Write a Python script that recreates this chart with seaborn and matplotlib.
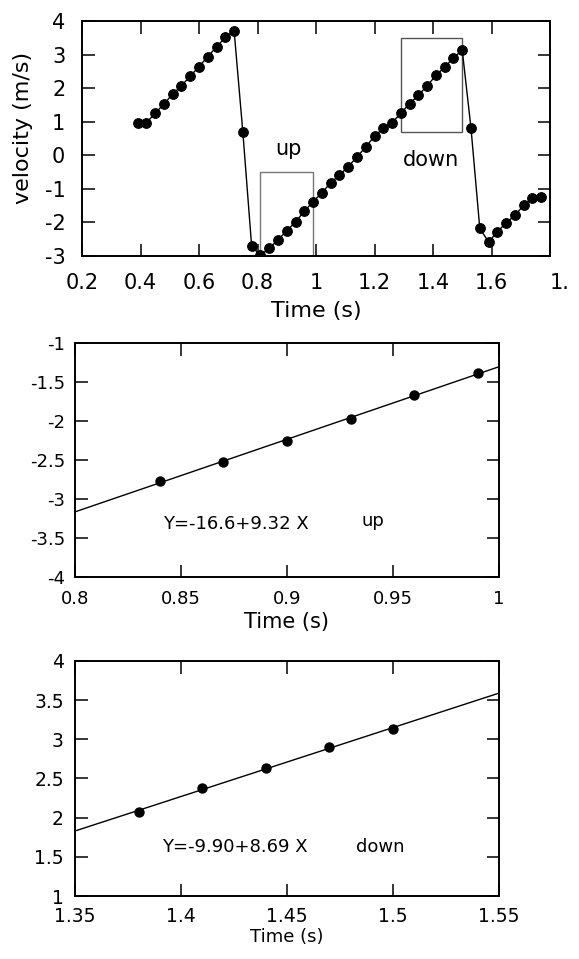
import numpy as np
import pandas as pd
import seaborn as sns
import matplotlib.pyplot as plt
from matplotlib.patches import Rectangle

# ====================== DATA ======================
# full run, velocity vs time
t_all = [0.39, 0.42, 0.45, 0.48, 0.51, 0.54, 0.57, 0.60, 0.63, 0.66, 0.69, 0.72,
         0.75, 0.78, 0.81, 0.84, 0.87, 0.90, 0.93, 0.96, 0.99, 1.02, 1.05, 1.08,
         1.11, 1.14, 1.17, 1.20, 1.23, 1.26, 1.29, 1.32, 1.35, 1.38, 1.41, 1.44,
         1.47, 1.50, 1.53, 1.56, 1.59, 1.62, 1.65, 1.68, 1.71, 1.74, 1.77]
v_all = [0.97, 0.97, 1.25, 1.53, 1.82, 2.07, 2.36, 2.64, 2.94, 3.23, 3.51, 3.71,
         0.68, -2.71, -2.98, -2.77, -2.52, -2.25, -1.98, -1.67, -1.38, -1.12, -0.82, -0.59,
         -0.34, -0.05, 0.25, 0.57, 0.80, 0.97, 1.25, 1.54, 1.79, 2.07, 2.38, 2.63,
         2.90, 3.13, 0.80, -2.18, -2.58, -2.28, -2.01, -1.79, -1.49, -1.26, -1.24]

# "up" section
t_up = [0.84, 0.87, 0.90, 0.93, 0.96, 0.99]
v_up = [-2.77, -2.52, -2.25, -1.98, -1.67, -1.38]

# "down" section
t_down = [1.38, 1.41, 1.44, 1.47, 1.50]
v_down = [2.07, 2.38, 2.63, 2.90, 3.13]

top_xticks = [0.2, 0.4, 0.6, 0.8, 1.0, 1.2, 1.4, 1.6, 1.8]
top_xlabels = ["0.2", "0.4", "0.6", "0.8", "1", "1.2", "1.4", "1.6", "1."]
top_yticks = [-3, -2, -1, 0, 1, 2, 3, 4]
up_xticks = [0.8, 0.85, 0.9, 0.95, 1.0]
up_xlabels = ["0.8", "0.85", "0.9", "0.95", "1"]
up_yticks = [-4, -3.5, -3, -2.5, -2, -1.5, -1]
up_ylabels = ["-4", "-3.5", "-3", "-2.5", "-2", "-1.5", "-1"]
down_xticks = [1.35, 1.4, 1.45, 1.5, 1.55]
down_xlabels = ["1.35", "1.4", "1.45", "1.5", "1.55"]
down_yticks = [1, 1.5, 2, 2.5, 3, 3.5, 4]
down_ylabels = ["1", "1.5", "2", "2.5", "3", "3.5", "4"]

df_all = pd.DataFrame({"t": t_all, "v": v_all})
df_up = pd.DataFrame({"t": t_up, "v": v_up})
df_down = pd.DataFrame({"t": t_down, "v": v_down})

# ====================== STYLE ======================
sns.set_style("ticks")
plt.rcParams["font.family"] = ["DejaVu Sans"]
plt.rcParams["axes.unicode_minus"] = False
for k in ["text.color", "axes.labelcolor", "xtick.color", "ytick.color", "axes.edgecolor"]:
    plt.rcParams[k] = "black"

W, H = 579, 959
fig = plt.figure(figsize=(W / 100, H / 100), dpi=100)

def px_axes(l, t, r, b):
    return fig.add_axes([l / W, 1 - b / H, (r - l) / W, (b - t) / H])

def style(ax, tsize, pad_x, pad_y):
    for s in ax.spines.values():
        s.set_linewidth(1.4)
        s.set_color("black")
    ax.tick_params(direction="in", length=9, width=1.1, top=True, right=True,
                   colors="black", labelsize=tsize)
    ax.tick_params(axis="x", pad=pad_x)
    ax.tick_params(axis="y", pad=pad_y)

dots = {"s": 42, "color": "black", "edgecolor": "black", "alpha": 1}
fitline = {"color": "black", "lw": 1}

# ====================== TOP PANEL ======================
ax1 = px_axes(82, 21, 550, 256)
sns.lineplot(data=df_all, x="t", y="v", ax=ax1, color="black", lw=1,
             marker="o", markersize=7, markeredgecolor="black", sort=False)
ax1.add_patch(Rectangle((0.81, -3), 0.18, 2.5, fill=False, ec="#777777", lw=1))
ax1.add_patch(Rectangle((1.29, 0.70), 0.21, 2.78, fill=False, ec="#555555", lw=1))
ax1.text(0.905, 0.2, "up", fontsize=15, ha="center", va="center")
ax1.text(1.394, -0.15, "down", fontsize=15, ha="center", va="center")
ax1.set_xlim(0.2, 1.8)
ax1.set_ylim(-3, 4)
ax1.set_xticks(top_xticks, top_xlabels)
ax1.set_yticks(top_yticks)
style(ax1, 15, 12, 12)
ax1.get_xticklabels()[-1].set_ha("left")
ax1.set_xlabel("Time (s)", fontsize=16, labelpad=6)
ax1.set_ylabel("velocity (m/s)", fontsize=16)
ax1.yaxis.set_label_coords(-0.105, 0.545)

# ====================== MIDDLE PANEL (up) ======================
ax2 = px_axes(75, 343, 499, 577)
ax2.set_xlim(0.8, 1.0)
ax2.set_ylim(-4, -1)
sns.regplot(data=df_up, x="t", y="v", ax=ax2, ci=None, truncate=False,
            scatter_kws=dots, line_kws=fitline)
ax2.set_xlim(0.8, 1.0)
ax2.set_ylim(-4, -1)
ax2.text(0.876, -3.32, "Y=-16.6+9.32 X", fontsize=13, ha="center", va="center")
ax2.text(0.9406, -3.28, "up", fontsize=13, ha="center", va="center")
ax2.set_xticks(up_xticks, up_xlabels)
ax2.set_yticks(up_yticks, up_ylabels)
style(ax2, 13, 9, 7)
ax2.set_xlabel("Time (s)", fontsize=15, labelpad=3)
ax2.set_ylabel("")

# ====================== BOTTOM PANEL (down) ======================
ax3 = px_axes(75, 661, 499, 896)
ax3.set_xlim(1.35, 1.55)
ax3.set_ylim(1, 4)
sns.regplot(data=df_down, x="t", y="v", ax=ax3, ci=None, truncate=False,
            scatter_kws=dots, line_kws=fitline)
ax3.set_xlim(1.35, 1.55)
ax3.set_ylim(1, 4)
ax3.text(1.4255, 1.63, "Y=-9.90+8.69 X", fontsize=13, ha="center", va="center")
ax3.text(1.494, 1.63, "down", fontsize=13, ha="center", va="center")
ax3.set_xticks(down_xticks, down_xlabels)
ax3.set_yticks(down_yticks, down_ylabels)
style(ax3, 13.5, 8, 8)
ax3.set_xlabel("Time (s)", fontsize=13, labelpad=1)
ax3.set_ylabel("")

plt.savefig("out.png", dpi=100)
